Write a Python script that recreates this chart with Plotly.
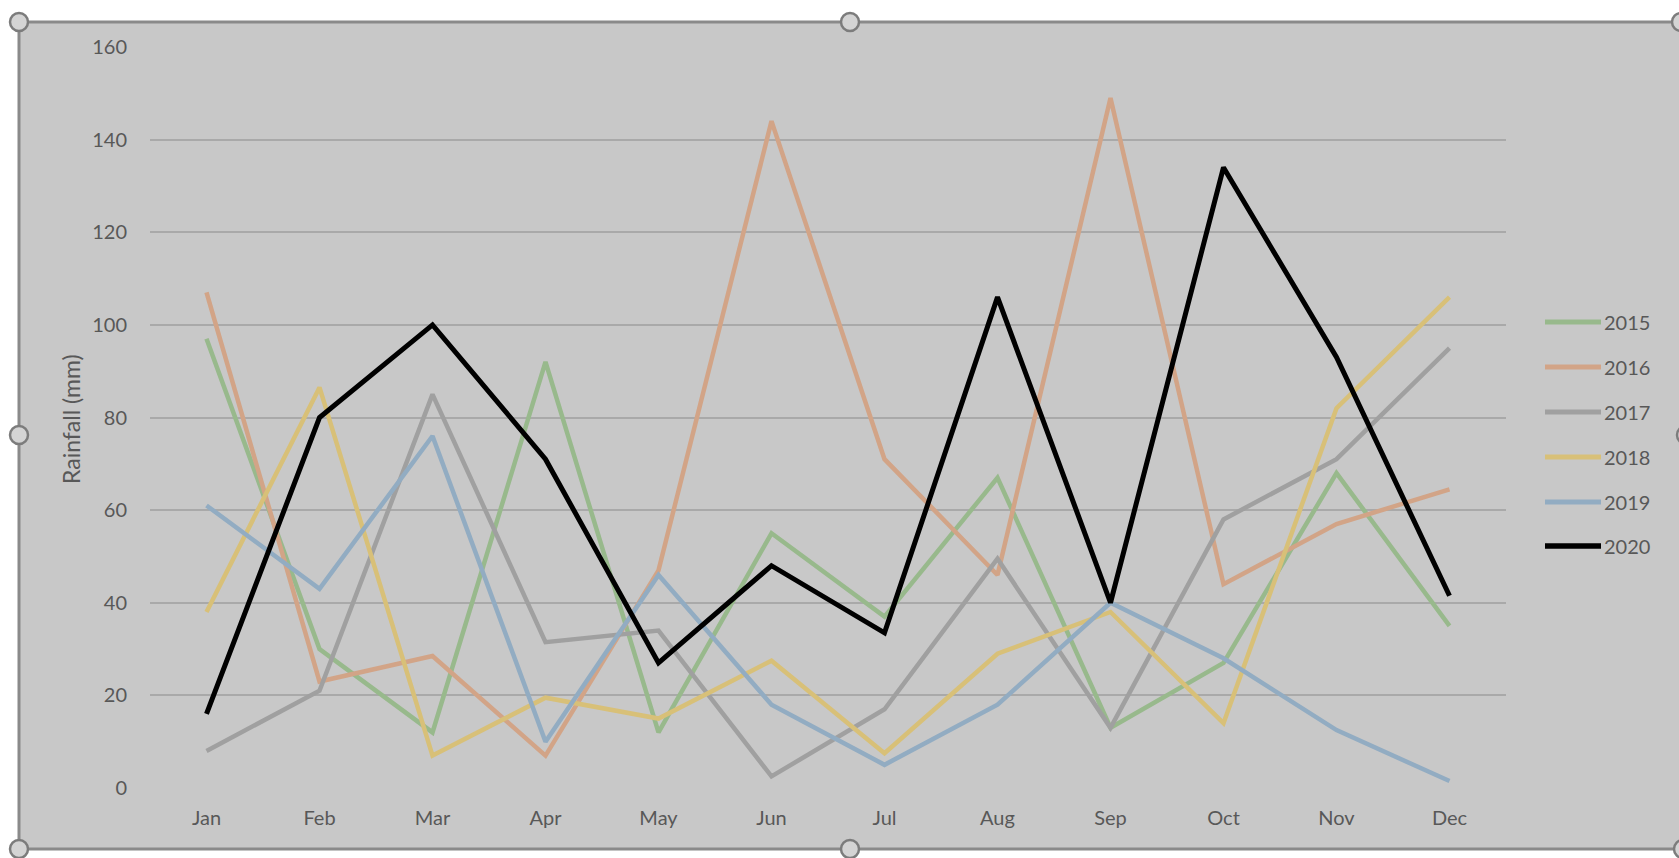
import plotly.graph_objects as go

# Monthly rainfall (mm) per year
months = ["Jan", "Feb", "Mar", "Apr", "May", "Jun", "Jul", "Aug", "Sep", "Oct", "Nov", "Dec"]
years = ["2015", "2016", "2017", "2018", "2019", "2020"]

rain_2015 = [97, 30, 12, 92, 12, 55, 37, 67, 13, 27, 68, 35]
rain_2016 = [107, 23, 28.5, 7, 47, 144, 71, 46, 149, 44, 57, 64.5]
rain_2017 = [8, 21, 85, 31.5, 34, 2.5, 17, 49.5, 13, 58, 71, 95]
rain_2018 = [38, 86.5, 7, 19.5, 15, 27.5, 7.5, 29, 38, 14, 82, 106]
rain_2019 = [61, 43, 76, 10, 46, 18, 5, 18, 40, 28, 12.5, 1.5]
rain_2020 = [16, 80, 100, 71, 27, 48, 33.5, 106, 40, 134, 93, 41.5]

y_ticks = [0, 20, 40, 60, 80, 100, 120, 140, 160]

series = [rain_2015, rain_2016, rain_2017, rain_2018, rain_2019, rain_2020]
colors = ["#98b98c", "#d2a487", "#a0a0a0", "#d8c078", "#92acc2", "#000000"]
widths = [4.5, 4.5, 4.5, 4.5, 4.5, 5]

W, H = 1679, 858
L, R, T, B = 150, 1506, 47, 788  # plot area in pixels


def px_x(px):
    return (px - L) / (R - L)


def px_y(py):
    return (B - py) / (B - T)


FONT = "Lato, 'Open Sans', sans-serif"
TEXT = "#585858"
FS = 20

fig = go.Figure()
for name, vals, col, w in zip(years, series, colors, widths):
    fig.add_trace(go.Scatter(
        x=months, y=vals, name=name, mode="lines",
        line=dict(color=col, width=w), showlegend=False,
    ))

shapes = []
annotations = []

# chart area frame
cx0, cy0, cx1, cy1 = 19, 22, 1683, 849
shapes.append(dict(
    type="rect", xref="paper", yref="paper", layer="below",
    x0=px_x(cx0), x1=px_x(cx1), y0=px_y(cy1), y1=px_y(cy0),
    fillcolor="#c8c8c8", line=dict(color="#8a8a8a", width=3),
))

# legend
leg_y = [322, 367, 412, 457, 502, 546]
for name, col, w, ly in zip(years, colors, widths, leg_y):
    shapes.append(dict(
        type="line", xref="paper", yref="paper", layer="above",
        x0=px_x(1545), x1=px_x(1601), y0=px_y(ly), y1=px_y(ly),
        line=dict(color=col, width=w + 0.5),
    ))
    annotations.append(dict(
        xref="paper", yref="paper", x=px_x(1602), y=px_y(ly),
        xanchor="left", yanchor="middle", text=name, showarrow=False,
        font=dict(family=FONT, size=FS, color=TEXT),
    ))

# y axis title
annotations.append(dict(
    xref="paper", yref="paper", x=px_x(71), y=px_y(419),
    xanchor="center", yanchor="middle", text="Rainfall (mm)", textangle=-90,
    showarrow=False, font=dict(family=FONT, size=23, color=TEXT),
))

# selection handles on the chart frame
midx, midy = 850, 435
for hx, hy in [(cx0, cy0), (midx, cy0), (1681, cy0), (cx0, midy), (1686, midy),
               (cx0, cy1), (midx, cy1), (1683, cy1)]:
    shapes.append(dict(
        type="circle", xref="paper", yref="paper", layer="above",
        xsizemode="pixel", ysizemode="pixel",
        xanchor=px_x(hx), yanchor=px_y(hy),
        x0=-9, x1=9, y0=-9, y1=9,
        fillcolor="#d4d4d4", line=dict(color="#7c7c7c", width=2.5),
    ))

fig.update_layout(
    width=W, height=H,
    margin=dict(l=L, r=W - R, t=T, b=H - B, pad=0),
    paper_bgcolor="white",
    plot_bgcolor="rgba(0,0,0,0)",
    shapes=shapes,
    annotations=annotations,
    showlegend=False,
    xaxis=dict(
        type="category", range=[-0.5, 11.5], showgrid=False, zeroline=False,
        showline=False, ticks="", ticklabelstandoff=16,
        tickfont=dict(family=FONT, size=FS, color=TEXT),
        fixedrange=True,
    ),
    yaxis=dict(
        range=[0, 160], tickvals=y_ticks, showgrid=True,
        gridcolor="#a9a9a9", gridwidth=1.5, zeroline=False, showline=False,
        ticks="", ticklabelstandoff=22,
        tickfont=dict(family=FONT, size=FS, color=TEXT),
        fixedrange=True,
    ),
)

fig.write_html("out.html")
